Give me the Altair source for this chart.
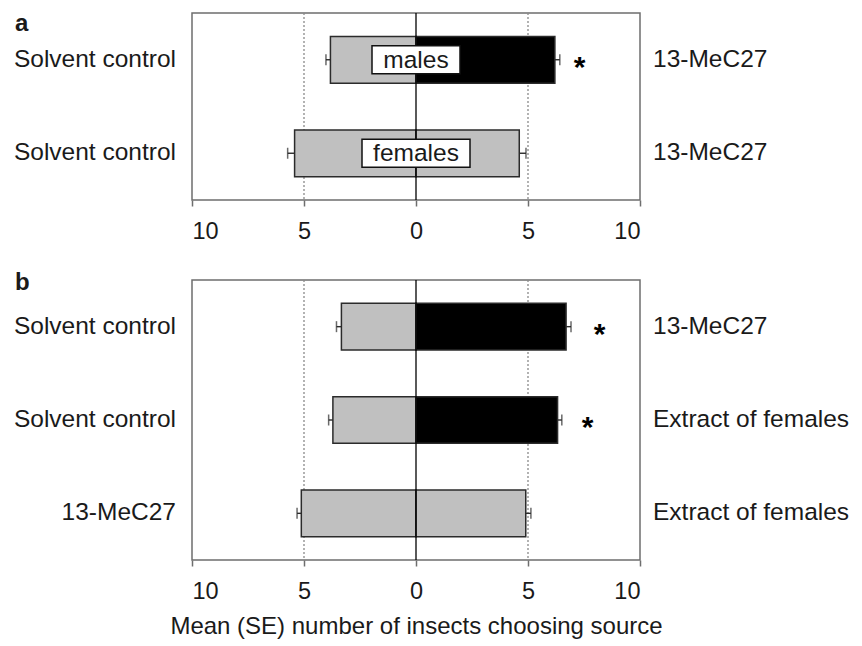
import altair as alt
import pandas as pd

FONT = "Liberation Sans"
TXT = "#1a1a1a"
GRAY = "#c0c0c0"

# ---------------- data: panel a ----------------
a_rows = [0, 1]
a_left_labels = ["Solvent control", "Solvent control"]
a_right_labels = ["13-MeC27", "13-MeC27"]
a_left_mean = [3.82, 5.42]
a_left_se = [0.20, 0.31]
a_right_mean = [6.20, 4.61]
a_right_se = [0.22, 0.30]
a_significant = [True, False]
a_star_x = [7.3, None]
a_sex_labels = ["males", "females"]

# ---------------- data: panel b ----------------
b_rows = [0, 1, 2]
b_left_labels = ["Solvent control", "Solvent control", "13-MeC27"]
b_right_labels = ["13-MeC27", "Extract of females", "Extract of females"]
b_left_mean = [3.33, 3.71, 5.12]
b_left_se = [0.22, 0.19, 0.19]
b_right_mean = [6.70, 6.32, 4.90]
b_right_se = [0.22, 0.19, 0.23]
b_significant = [True, True, False]
b_star_x = [8.2, 7.66, None]

x_ticks = [-10, -5, 0, 5, 10]
grid_values = [-5, 5]
axis_title = "Mean (SE) number of insects choosing source"


def panel(rows, left_labels, right_labels, left_mean, left_se, right_mean,
          right_se, significant, star_x, height, letter, letter_y,
          title=None, sex_labels=None):
    xscale = alt.Scale(domain=[-10, 10], nice=False, zero=False)
    yscale = alt.Scale(domain=rows, paddingInner=0.5, paddingOuter=0.25)
    xaxis = alt.Axis(values=x_ticks, labelExpr="abs(datum.value)",
                     labelFont=FONT, labelFontSize=23.5, labelColor=TXT,
                     tickColor="#6e6e6e", tickSize=6, tickWidth=1.5,
                     labelPadding=13, domain=False, grid=False,
                     title=title, titleFont=FONT, titleFontSize=24,
                     titleFontWeight="normal", titleColor=TXT,
                     titlePadding=12)

    def X(field):
        return alt.X(f"{field}:Q", scale=xscale, axis=xaxis)

    Y = alt.Y("row:O", scale=yscale, axis=None)

    bars = []
    errs = []
    for i, r in enumerate(rows):
        bars.append({"row": r, "start": 0, "end": -left_mean[i], "fill": GRAY})
        bars.append({"row": r, "start": 0, "end": right_mean[i],
                     "fill": "#000000" if significant[i] else GRAY})
        errs.append({"row": r, "e0": -left_mean[i], "e1": -(left_mean[i] + left_se[i])})
        errs.append({"row": r, "e0": right_mean[i], "e1": right_mean[i] + right_se[i]})
    bars_df = pd.DataFrame(bars)
    errs_df = pd.DataFrame(errs)
    lab_df = pd.DataFrame({"row": rows, "left": left_labels, "right": right_labels})
    star_df = pd.DataFrame({"row": [r for r, s in zip(rows, star_x) if s is not None],
                            "sx": [s for s in star_x if s is not None]})

    grid = alt.Chart(pd.DataFrame({"g": grid_values})).mark_rule(
        color="#8a8a8a", strokeDash=[2, 2], strokeWidth=1.3
    ).encode(x=X("g"))
    zero = alt.Chart(pd.DataFrame({"z": [0]})).mark_rule(
        color="#000000", strokeWidth=1.3
    ).encode(x=X("z"))
    bar = alt.Chart(bars_df).mark_bar(stroke="#2b2b2b", strokeWidth=1.5).encode(
        x=X("start"), x2="end:Q", y=Y, fill=alt.Fill("fill:N", scale=None))
    erule = alt.Chart(errs_df).mark_rule(color="#2b2b2b", strokeWidth=1.4).encode(
        x=X("e0"), x2="e1:Q", y=Y)
    ecap = alt.Chart(errs_df).mark_tick(color="#2b2b2b", orient="vertical",
                                         size=11, thickness=1.5).encode(x=X("e1"), y=Y)
    left_t = alt.Chart(lab_df).mark_text(
        align="right", baseline="middle", font=FONT, fontSize=24.5, color=TXT
    ).encode(text="left:N", y=Y, x=alt.value(-16))
    right_t = alt.Chart(lab_df).mark_text(
        align="left", baseline="middle", font=FONT, fontSize=24.5, color=TXT
    ).encode(text="right:N", y=Y, x=alt.value(461))
    stars = alt.Chart(star_df).mark_text(
        text="*", baseline="middle", dy=8, font=FONT, fontSize=30,
        fontWeight="bold", color="#000000"
    ).encode(x=X("sx"), y=Y)
    let = alt.Chart(pd.DataFrame({"t": [letter]})).mark_text(
        align="left", baseline="alphabetic", font=FONT, fontSize=24,
        fontWeight="bold", color=TXT
    ).encode(text="t:N", x=alt.value(-177), y=alt.value(letter_y))

    layers = [grid, bar, zero, erule, ecap, stars, left_t, right_t, let]

    if sex_labels is not None:
        sx_df = pd.DataFrame({"row": rows, "lbl": sex_labels, "c": [0] * len(rows)})
        box1 = alt.Chart(sx_df).transform_filter(f"datum.row == {rows[0]}").mark_rect(
            width=88, height=28, fill="white", stroke="#111111", strokeWidth=1.5
        ).encode(x=X("c"), y=Y)
        box2 = alt.Chart(sx_df).transform_filter(f"datum.row == {rows[1]}").mark_rect(
            width=108, height=28, fill="white", stroke="#111111", strokeWidth=1.5
        ).encode(x=X("c"), y=Y)
        sx_t = alt.Chart(sx_df).mark_text(
            baseline="middle", font=FONT, fontSize=24.5, color=TXT, dy=1
        ).encode(text="lbl:N", x=X("c"), y=Y)
        layers += [box1, box2, sx_t]

    return alt.layer(*layers).properties(width=448, height=height)


pa = panel(a_rows, a_left_labels, a_right_labels, a_left_mean, a_left_se,
           a_right_mean, a_right_se, a_significant, a_star_x, 187, "a", 18,
           title=None, sex_labels=a_sex_labels)
pb = panel(b_rows, b_left_labels, b_right_labels, b_left_mean, b_left_se,
           b_right_mean, b_right_se, b_significant, b_star_x, 280, "b", 10,
           title=axis_title)

chart = alt.vconcat(pa, pb, spacing=26).properties(
    padding={"left": 5, "top": 3, "right": 0, "bottom": 0}
).configure_view(stroke="#6e6e6e", strokeWidth=1.5)

chart.save("out.html", embed_options={"renderer": "svg", "actions": False})
